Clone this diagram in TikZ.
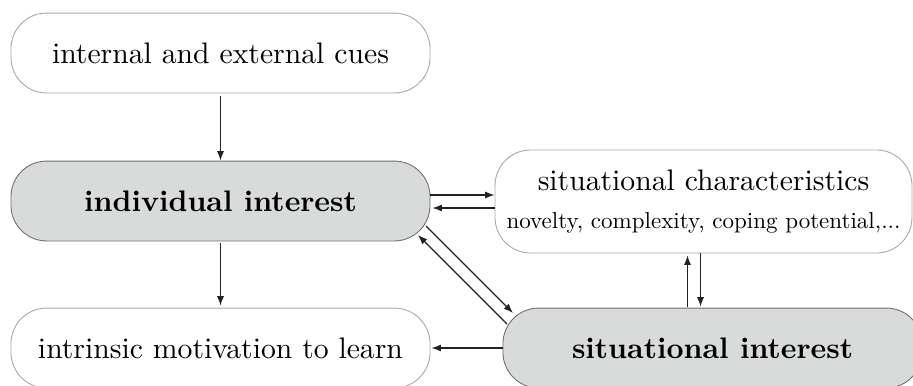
\documentclass[tikz,border=0pt]{standalone}
\usetikzlibrary{arrows.meta,calc}
\definecolor{boxgray}{HTML}{D9DADA}
\definecolor{lightedge}{HTML}{A8A8A8}
\definecolor{darkedge}{HTML}{707070}
\definecolor{arrowcol}{HTML}{222222}
\tikzset{
  whitebox/.style={draw=lightedge, line width=0.3pt, fill=white, rounded corners=12pt,
    minimum width=141.1pt, minimum height=26.9pt, inner sep=0pt, align=center},
  graybox/.style={whitebox, draw=darkedge, fill=boxgray, font=\bfseries},
  conn/.style={draw=arrowcol, line width=0.4pt, -{Latex[length=3.2pt,width=2.4pt]}}
}
\begin{document}
\begin{tikzpicture}[x=0.3367pt,y=-0.3367pt]
\useasboundingbox (0,0) rectangle (913,385);
\clip (0,0) rectangle (913,385);
\node[whitebox] (cues) at (220.5,53) {internal and external cues};
\node[graybox] (ind) at (220.5,201) {individual interest};
\node[whitebox] (intr) at (220.5,348) {intrinsic motivation to learn};
\node[whitebox, minimum height=34.7pt, minimum width=140.4pt] (sitc) at (703.5,201.5)
  {situational characteristics\\[0.5pt]\scalebox{0.775}{novelty, complexity, coping potential,...}};
\node[graybox] (siti) at (712.5,348) {situational interest};
\draw[conn] (cues.south) ++(0,3) -- (ind.north);
\draw[conn] (ind.south) ++(0,2) -- ($(intr.north)+(0,-2)$);
\draw[conn] ($(ind.east)+(0,-6)$) -- ($(sitc.west)+(0,-6.5)$);
\draw[conn] ($(sitc.west)+(0,6.5)$) -- ($(ind.east)+(2,7)$);
\draw[conn] (siti.west) -- ($(intr.east)+(1,0)$);
\draw[conn] ($(siti.north)+(-25,-1)$) -- ($(sitc.south)+(-16,2)$);
\draw[conn] ($(sitc.south)+(-3,0)$) -- ($(siti.north)+(-12,-1)$);
\coordinate (d1s) at (426,226);
\coordinate (d1e) at (513,313);
\coordinate (d2s) at (507,324);
\coordinate (d2e) at (418,235);
\draw[conn] (d1s) -- (d1e);
\draw[conn] (d2s) -- (d2e);
\end{tikzpicture}
\end{document}
